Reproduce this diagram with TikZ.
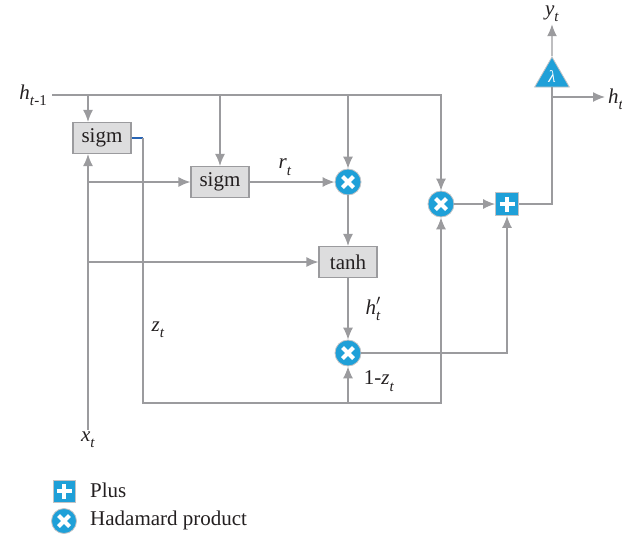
\RequirePackage{fix-cm}
\documentclass[tikz,border=0pt]{standalone}
\usepackage{amsmath}
\usepackage{fontspec}
\setmainfont{Liberation Serif}
\usepackage{tikz}
\usetikzlibrary{arrows.meta}
\usetikzlibrary{positioning}
\usetikzlibrary{shapes.geometric}
\tikzset{>={Latex[width=10pt,length=12pt]}}
\definecolor{lineGray}{RGB}{155,155,158}
\definecolor{boxGray}{RGB}{221,221,222}
\definecolor{gateBlue}{RGB}{31,160,216}
\definecolor{ringGray}{RGB}{195,195,197}
\definecolor{zBlue}{RGB}{40,100,180}
\definecolor{inkBlack}{RGB}{35,31,32}
% wire label: italic letter with a lowered index
\newcommand{\wireLabel}[2]{\textit{#1}\raisebox{-0.3em}{\fontsize{15}{17}\selectfont #2}}
\tikzset{
  every node/.style={text=inkBlack, inner sep=2pt, font=\fontsize{21}{24}\selectfont},
  wire/.style={draw=lineGray, line width=1.3pt},
  gate/.style={rectangle, draw=lineGray, fill=boxGray, line width=1.2pt,
    minimum width=58pt, minimum height=31pt, inner sep=0pt},
  hadamard/.style={circle, fill=gateBlue, draw=ringGray, line width=0.8pt,
    minimum size=26pt, inner sep=0pt,
    path picture={\draw[white, line width=4pt]
      ([shift={(-5.5pt,-5.5pt)}]path picture bounding box.center) --
      ([shift={(5.5pt,5.5pt)}]path picture bounding box.center)
      ([shift={(-5.5pt,5.5pt)}]path picture bounding box.center) --
      ([shift={(5.5pt,-5.5pt)}]path picture bounding box.center);}},
  plusgate/.style={rectangle, fill=gateBlue, draw=ringGray, line width=0.8pt,
    minimum size=23pt, inner sep=0pt,
    path picture={\draw[white, line width=4.5pt]
      ([xshift=-7.5pt]path picture bounding box.center) --
      ([xshift=7.5pt]path picture bounding box.center)
      ([yshift=-7.5pt]path picture bounding box.center) --
      ([yshift=7.5pt]path picture bounding box.center);}},
  scaler/.style={regular polygon, regular polygon sides=3, fill=gateBlue,
    draw=ringGray, line width=0.8pt, minimum size=40pt, inner sep=0pt,
    text=white, font=\fontsize{17}{19}\selectfont}
}

\begin{document}
\begin{tikzpicture}[x=1pt,y=-1pt]
  \useasboundingbox (0,0) rectangle (622,539);
  % Gates and operators
  \node[gate] (sigmZ) at (102,138) {sigm};
  \node[gate] (sigmR) at (220,182) {sigm};
  \node[gate] (tanhH) at (348,262) {tanh};
  \node[hadamard] (mulR) at (348,182) {};
  \node[hadamard] (mulZ) at (348,353) {};
  \node[hadamard] (mulH) at (441,204) {};
  \node[plusgate] (addOut) at (507,204) {};
  \node[scaler] (lam) at (552,77) {\textit{λ}};
  % Inputs, outputs and wire labels
  \coordinate (hIn) at (52,95);
  \node[left=3pt of hIn] (hPrev) {\wireLabel{h}{\textit{t}-1}};
  \node (xIn) at (88,440) {\wireLabel{x}{\textit{t}}};
  \node (yOut) at (552,14) {\wireLabel{y}{\textit{t}}};
  \node[anchor=west, inner sep=3pt] (hOut) at (605,99) {\wireLabel{h}{\textit{t}}};
  \node (rLab) at (285,167) {\wireLabel{r}{\textit{t}}};
  \node (zLab) at (158,330) {\wireLabel{z}{\textit{t}}};
  \node (hpLab) at (373,309) {\textit{h}\rlap{\raisebox{0.42em}{\fontsize{15}{17}\selectfont$\prime$}}\raisebox{-0.3em}{\fontsize{15}{17}\selectfont\textit{t}}};
  \node (omzLab) at (379,381) {1-\wireLabel{z}{\textit{t}}};
  % Junction points
  \coordinate (zTurn) at (143,138);
  \coordinate (zBase) at (143,403);
  \coordinate (hSplit) at (552,97);
  % Hidden state line
  \draw[wire, ->] (hIn) -- (hIn -| mulH) -- (mulH);
  \draw[wire, ->] (hIn -| xIn) -- (xIn |- sigmZ.north);
  \draw[wire, ->] (hIn -| sigmR) -- (sigmR);
  \draw[wire, ->] (hIn -| mulR) -- (mulR);
  % Input line
  \draw[wire, ->] (xIn) -- (xIn |- sigmZ.south);
  \draw[wire, ->] (xIn |- sigmR) -- (sigmR);
  \draw[wire, ->] (xIn |- tanhH) -- (tanhH);
  % Reset path
  \draw[wire, ->] (sigmR) -- (mulR);
  \draw[wire, ->] (mulR) -- (tanhH);
  \draw[wire, ->] (tanhH) -- (mulZ);
  % Update gate path
  \draw[zBlue, line width=1.2pt] (sigmZ.east) -- (zTurn);
  \draw[wire, ->] (zTurn) -- (zBase) -| (mulH);
  \draw[wire, ->] (zBase -| mulZ) -- (mulZ);
  % Output
  \draw[wire, ->] (mulZ) -| (addOut);
  \draw[wire, ->] (mulH) -- (addOut);
  \draw[wire] (addOut) -| (lam.south);
  \draw[wire, ->] (lam.north) -- (yOut);
  \draw[wire, ->] (hSplit) -- (hSplit -| hOut.west);
  % Legend
  \node[plusgate, minimum size=22pt] (legPlus) at (64,491) {};
  \node[hadamard, minimum size=25pt] (legMul) at (64,521) {};
  \node[anchor=west] (legPlusText) at (88,490) {Plus};
  \node[anchor=west] (legMulText) at (88,520) {Hadamard product};
\end{tikzpicture}
\end{document}
